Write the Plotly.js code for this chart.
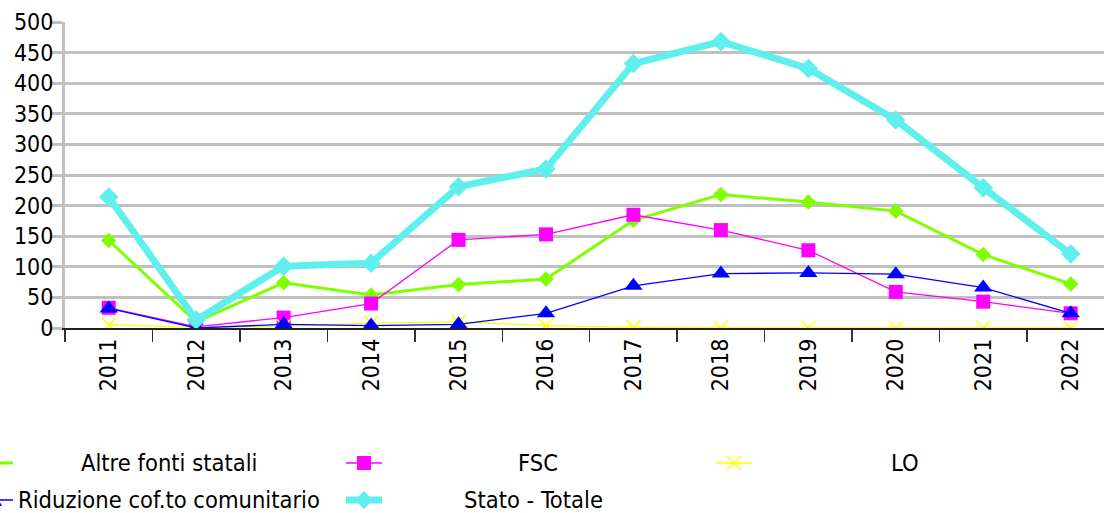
<!DOCTYPE html>
<html>
<head>
<meta charset="utf-8">
<script src="https://cdn.plot.ly/plotly-3.0.1.min.js"></script>
<style>
html,body{margin:0;padding:0;background:#fff;}
#chart{width:1104px;height:513px;}
</style>
</head>
<body>
<div id="chart"></div>
<script>
const years = ['2011','2012','2013','2014','2015','2016','2017','2018','2019','2020','2021','2022'];
const altreFonti = [143, 10, 74, 54, 71, 80, 176, 218, 206, 191, 120, 72];
const fsc = [33, 2, 17, 40, 144, 153, 185, 160, 127, 59, 43, 24];
const lo = [5, 1, 3, 8, 10, 4, 1, 0, 0, 0, 0, 0];
const riduzione = [32, 0, 6, 4, 6, 24, 69, 89, 90, 88, 66, 24];
const statoTotale = [214, 13, 101, 106, 231, 260, 432, 468, 424, 340, 229, 121];
const seriesNames = ['Altre fonti statali', 'FSC', 'LO', 'Riduzione cof.to comunitario', 'Stato - Totale'];
const yTicks = [0, 50, 100, 150, 200, 250, 300, 350, 400, 450, 500];

const FONT = '"DejaVu Sans Condensed", "Liberation Sans", sans-serif';
const colors = {altre:'#80ff00', fsc:'#ff00ff', lo:'#ffff00', rid:'#0000ff', stato:'#5ff0ee'};

const W = 1104, H = 513;
const margin = {l:65, r:0, t:22, b:185};
const plotW = W - margin.l - margin.r;
const plotH = H - margin.t - margin.b;
const catW = 87.45;

const traces = [
  {x: years, y: altreFonti, name: seriesNames[0], type:'scatter', mode:'lines+markers',
   line:{color:colors.altre, width:3}, marker:{symbol:'diamond', size:12, color:colors.altre}},
  {x: years, y: fsc, name: seriesNames[1], type:'scatter', mode:'lines+markers',
   line:{color:colors.fsc, width:1.3}, marker:{symbol:'square', size:14, color:colors.fsc}},
  {x: years, y: lo, name: seriesNames[2], type:'scatter', mode:'lines+markers',
   line:{color:colors.lo, width:1.3}, marker:{symbol:'x-thin', size:14, color:colors.lo, line:{color:colors.lo, width:1.5}}},
  {x: years, y: riduzione, name: seriesNames[3], type:'scatter', mode:'lines+markers',
   line:{color:colors.rid, width:1.3}, marker:{symbol:'triangle-up', size:16, color:colors.rid}},
  {x: years, y: statoTotale, name: seriesNames[4], type:'scatter', mode:'lines+markers',
   line:{color:colors.stato, width:7}, marker:{symbol:'diamond', size:15, color:colors.stato}}
];

// manual legend (centered text cells, as in the reference)
function px2x(px){ return (px - margin.l) / plotW; }
function py2y(py){ return (H - margin.b - py) / plotH; }
const legendItems = [
  {name: seriesNames[0], key:'altre', icon:-5, text:169, row:463, sym:'diamond', lw:3},
  {name: seriesNames[1], key:'fsc', icon:364, text:538, row:463, sym:'square', lw:1.3},
  {name: seriesNames[2], key:'lo', icon:734, text:905, row:463, sym:'x', lw:1.3},
  {name: seriesNames[3], key:'rid', icon:-5, text:169, row:500, sym:'triangle', lw:1.3},
  {name: seriesNames[4], key:'stato', icon:364, text:533, row:500, sym:'diamond', lw:7}
];
const annotations = [];
const shapes = [];
legendItems.forEach(it => {
  const c = colors[it.key];
  annotations.push({xref:'paper', yref:'paper', x:px2x(it.text), y:py2y(it.row), text:it.name,
    showarrow:false, xanchor:'center', yanchor:'middle', font:{family:FONT, size:23.5, color:'#000'}});
  shapes.push({type:'line', xref:'paper', yref:'paper', x0:px2x(it.icon-18), x1:px2x(it.icon+18),
    y0:py2y(it.row), y1:py2y(it.row), line:{color:c, width:it.lw}});
  let path, fill = c, lineW = 0;
  if (it.sym === 'diamond') { const s = it.key==='stato'?9:7; path = `M0,${s} L${s},0 L0,${-s} L${-s},0 Z`; }
  else if (it.sym === 'square') { path = 'M-7,-7 L7,-7 L7,7 L-7,7 Z'; }
  else if (it.sym === 'triangle') { path = 'M-7,-6 L7,-6 L0,7 Z'; }
  else { path = 'M-7,-7 L7,7 M-7,7 L7,-7'; fill = 'rgba(0,0,0,0)'; lineW = 1.5; }
  shapes.push({type:'path', xref:'paper', yref:'paper', xsizemode:'pixel', ysizemode:'pixel',
    xanchor:px2x(it.icon), yanchor:py2y(it.row), path:path, fillcolor:fill,
    line:{color:c, width:lineW}});
});

const layout = {
  width: W, height: H,
  margin: margin,
  paper_bgcolor:'#ffffff', plot_bgcolor:'#ffffff',
  showlegend:false,
  font:{family:FONT, size:23, color:'#000'},
  xaxis:{
    type:'category', categoryorder:'array', categoryarray: years,
    range:[-0.5, -0.5 + plotW/catW],
    tickson:'boundaries', ticks:'outside', ticklen:12, tickcolor:'#333', tickwidth:1.5,
    tickangle:-90, showgrid:false, zeroline:false,
    showline:true, linecolor:'#222', linewidth:1.5,
    tickfont:{family:FONT, size:23, color:'#000'}
  },
  yaxis:{
    range:[0, 500], tickvals: yTicks, ticktext: yTicks.map(String),
    ticks:'outside', ticklen:12, tickcolor:'#c0c0c0', tickwidth:3,
    showgrid:true, gridcolor:'#c0c0c0', gridwidth:3,
    zeroline:false, showline:true, linecolor:'#c0c0c0', linewidth:3,
    ticklabelstandoff:-8,
    tickfont:{family:FONT, size:23, color:'#000'}
  },
  annotations: annotations,
  shapes: shapes
};

Plotly.newPlot('chart', traces, layout, {staticPlot:true, displayModeBar:false});
</script>
</body>
</html>
